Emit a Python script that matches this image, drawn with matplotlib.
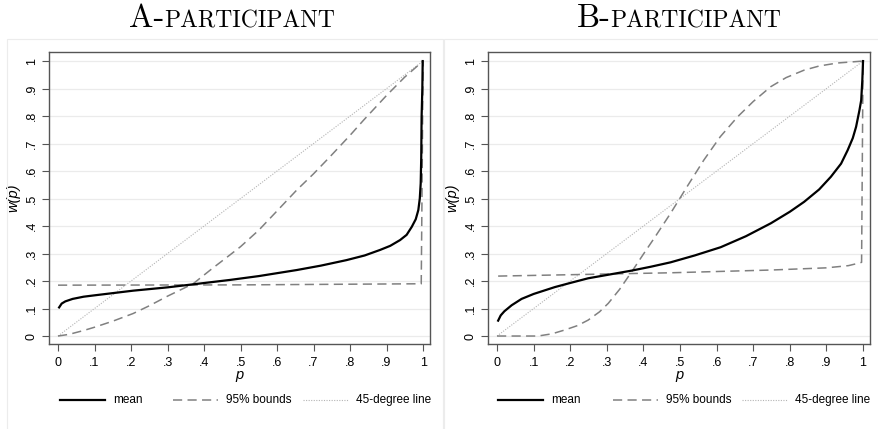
import matplotlib
matplotlib.use("Agg")
from matplotlib import pyplot as plt
from matplotlib.lines import Line2D
from matplotlib.patches import Rectangle

# values
# A-participant
a_mean_p = [0.003, 0.01, 0.02, 0.04, 0.07, 0.1, 0.15, 0.206, 0.3, 0.37, 0.471, 0.55, 0.654, 0.72, 0.79,
            0.84, 0.882, 0.91, 0.937, 0.955, 0.969, 0.98, 0.987, 0.991, 0.9935, 0.995, 0.996, 0.998, 0.999]
a_mean_w = [0.104, 0.118, 0.126, 0.135, 0.143, 0.148, 0.156, 0.165, 0.177, 0.188, 0.204, 0.218, 0.24, 0.256, 0.276,
            0.293, 0.313, 0.328, 0.349, 0.368, 0.397, 0.425, 0.458, 0.5, 0.555, 0.65, 0.797, 0.9, 1.0]
a_low_p = [0.0, 0.5, 0.987, 0.995, 0.997, 1.0]
a_low_w = [0.185, 0.186, 0.19, 0.19, 0.5, 1.0]
a_up_p = [0.0, 0.03, 0.07, 0.1, 0.15, 0.206, 0.25, 0.3, 0.37, 0.42, 0.471, 0.5, 0.55, 0.6, 0.654, 0.7,
          0.745, 0.8, 0.837, 0.9, 0.95, 1.0]
a_up_w = [0.0, 0.006, 0.02, 0.032, 0.054, 0.082, 0.11, 0.145, 0.19, 0.243, 0.295, 0.325, 0.385, 0.455, 0.531, 0.59,
          0.652, 0.73, 0.785, 0.875, 0.942, 1.0]

# B-participant
b_mean_p = [0.003, 0.01, 0.02, 0.04, 0.067, 0.1, 0.158, 0.2, 0.249, 0.3, 0.368, 0.42, 0.474, 0.54, 0.611, 0.68,
            0.748, 0.8, 0.839, 0.88, 0.912, 0.94, 0.958, 0.972, 0.981, 0.99, 0.995, 0.998, 1.0]
b_mean_w = [0.056, 0.075, 0.09, 0.112, 0.135, 0.153, 0.178, 0.193, 0.21, 0.222, 0.238, 0.252, 0.268, 0.293, 0.323,
            0.363, 0.41, 0.452, 0.488, 0.533, 0.579, 0.627, 0.676, 0.72, 0.761, 0.82, 0.858, 0.93, 1.0]
b_low_p = [0.003, 0.474, 0.748, 0.9, 0.93, 0.96, 0.985, 0.996, 1.0]
b_low_w = [0.218, 0.23, 0.24, 0.248, 0.252, 0.256, 0.264, 0.268, 1.0]
b_up_p = [0.0, 0.112, 0.15, 0.185, 0.22, 0.249, 0.28, 0.304, 0.335, 0.368, 0.4, 0.432, 0.474, 0.52, 0.565, 0.61,
          0.657, 0.7, 0.748, 0.79, 0.839, 0.88, 0.93, 1.0]
b_up_w = [0.0, 0.0, 0.008, 0.022, 0.038, 0.058, 0.088, 0.119, 0.17, 0.234, 0.298, 0.361, 0.446, 0.545, 0.64, 0.725,
          0.797, 0.853, 0.907, 0.94, 0.967, 0.982, 0.993, 1.0]

diag = [0.0, 1.0]

ticks = [0, 0.1, 0.2, 0.3, 0.4, 0.5, 0.6, 0.7, 0.8, 0.9, 1.0]
tick_labels = ["0", ".1", ".2", ".3", ".4", ".5", ".6", ".7", ".8", ".9", "1"]
legend_labels = ["mean", "95% bounds", "45-degree line"]

W, H = 879, 429
plt.rcParams['font.family'] = ['Liberation Sans', 'DejaVu Sans']

fig = plt.figure(figsize=(W / 100, H / 100), dpi=100)

mean_style = dict(color="black", lw=1.6, ls="-")
bound_style = dict(color="#808080", lw=1.1, ls=(0, (6, 3.5)))
diag_style = dict(color="#b4b4b4", lw=0.8, ls=(0, (1, 1.3)))


def fx(px):
    return px / W


def fy(py):
    return 1 - py / H


def makePanel(left_px, right_px, frame_left, frame_right, title_cx, first, rest,
              mp, mw, lp, lw, up, uw, leg_x):
    # faint frame of the panel
    fig.add_artist(Rectangle((fx(frame_left), fy(H + 5)), fx(frame_right - frame_left), fy(39) - fy(H + 5),
                             fill=False, ec="#ececec", lw=0.8, transform=fig.transFigure))

    ax = fig.add_axes([fx(left_px), fy(344), fx(right_px - left_px), fy(52) - fy(344)])
    ax.plot(diag, diag, **diag_style)
    ax.plot(up, uw, **bound_style)
    ax.plot(lp, lw, **bound_style)
    ax.plot(mp, mw, solid_joinstyle="round", **mean_style)

    ax.set_xlim(-0.0247, 1.019)
    ax.set_ylim(-0.029, 1.033)
    ax.set_xticks(ticks)
    ax.set_xticklabels(tick_labels)
    ax.set_yticks(ticks)
    ax.set_yticklabels(tick_labels, rotation=90, va="center")
    ax.tick_params(length=5, width=0.8, color="#555555", labelsize=9, pad=3)
    ax.tick_params(axis="x", pad=4)
    for s in ax.spines.values():
        s.set_color("#555555")
        s.set_linewidth(1.0)
    ax.grid(axis="y", color="#ebebeb", lw=0.9)
    ax.set_axisbelow(True)
    ax.set_xlabel("p", fontstyle="italic", fontsize=10.5, labelpad=0)
    ax.set_ylabel("w(p)", fontstyle="italic", fontsize=10.5, labelpad=4)

    # title in small caps made of two sizes
    t1 = fig.text(0, fy(27), first, family="cmr10", fontsize=23.5, ha="left", va="baseline")
    t2 = fig.text(0, fy(27), rest, family="cmr10", fontsize=17, ha="left", va="baseline")
    fig.canvas.draw()
    r = fig.canvas.get_renderer()
    w1 = t1.get_window_extent(r).width
    w2 = t2.get_window_extent(r).width
    x0 = title_cx - (w1 + w2) / 2
    t1.set_x(fx(x0))
    t2.set_x(fx(x0 + w1))

    # legend drawn by hand, Stata style columns
    styles = [mean_style, bound_style, diag_style]
    for i in range(3):
        x = leg_x[i]
        fig.add_artist(Line2D([fx(x), fx(x + 45)], [fy(400), fy(400)], transform=fig.transFigure, **styles[i]))
        fig.text(fx(x + 53), fy(400), legend_labels[i], fontsize=8.5, va="center", ha="left")
    return ax


makePanel(49, 430, 7, 443, 232, "A-", "PARTICIPANT",
          a_mean_p, a_mean_w, a_low_p, a_low_w, a_up_p, a_up_w, [60, 173, 303])
makePanel(488, 870, 444, 884, 679, "B-", "PARTICIPANT",
          b_mean_p, b_mean_w, b_low_p, b_low_w, b_up_p, b_up_w, [498, 613, 742])

fig.savefig("out.png", dpi=100)
